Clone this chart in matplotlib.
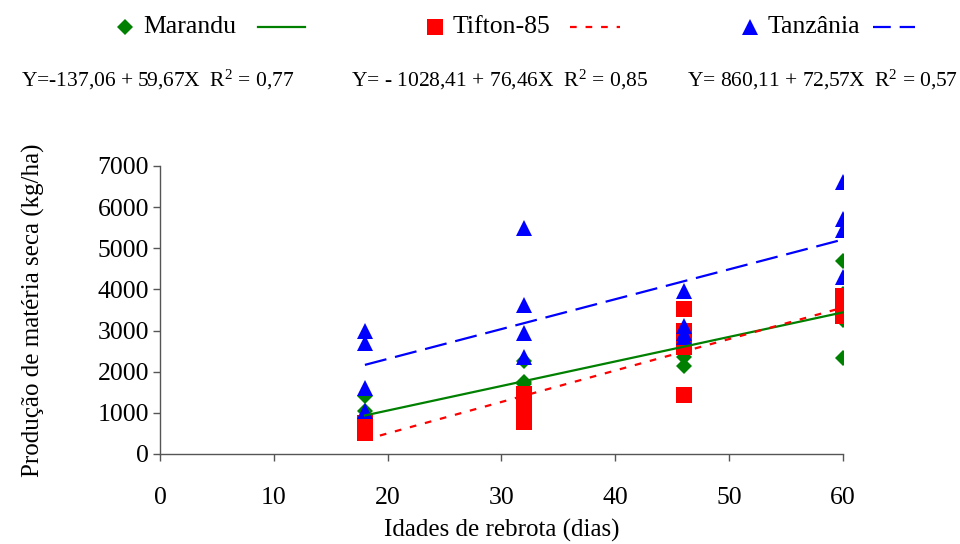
import matplotlib.pyplot as plt
from matplotlib.lines import Line2D

plt.rcParams['font.family'] = ['Liberation Serif', 'DejaVu Serif']
plt.rcParams['mathtext.default'] = 'regular'

# dias de rebrota
idades = [18, 32, 46, 60]

# producao de materia seca (kg/ha), 4 valores por idade
marandu = [[1400, 1050, 700, 500],
           [2250, 1750, 1700, 1600],
           [2350, 2150, 2500, 2700],
           [4690, 3900, 3250, 2330]]
tifton = [[750, 650, 550, 500],
          [1450, 1250, 1000, 780],
          [3520, 3000, 2600, 1430],
          [3850, 3650, 3450, 3350]]
tanzania = [[3000, 2700, 1600, 1050],
            [5500, 3620, 2940, 2360],
            [3950, 3100, 2950, 2850],
            [6610, 5710, 5450, 4300]]

# retas de regressao (inicio e fim)
reta_x = [18, 60]
reta_marandu = [937, 3443]
reta_tifton = [348, 3559]
reta_tanzania = [2166, 5214]

nomes = ['Marandu', 'Tifton-85', 'Tanzânia']
equacoes = ['Y=-137,06 + 59,67X  R$^2$ = 0,77',
            'Y= - 1028,41 + 76,46X  R$^2$ = 0,85',
            'Y= 860,11 + 72,57X  R$^2$ = 0,57']

verde, vermelho, azul = '#008000', '#FF0000', '#0000FF'


def pontos(dados):
    xs, ys = [], []
    for x, vals in zip(idades, dados):
        xs += [x] * len(vals)
        ys += vals
    return xs, ys


fig = plt.figure(figsize=(9.6, 5.44), dpi=100)
ax = fig.add_axes([160 / 960, 1 - 454 / 544, 683 / 960, 288 / 544])

x, y = pontos(marandu)
ax.plot(x, y, 'D', color=verde, markersize=8.5, markeredgewidth=0, zorder=3)
x, y = pontos(tifton)
ax.plot(x, y, 's', color=vermelho, markersize=11.5, markeredgewidth=0, zorder=4)
x, y = pontos(tanzania)
ax.plot(x, y, '^', color=azul, markersize=12, markeredgewidth=0, zorder=5)

ax.plot(reta_x, reta_marandu, '-', color=verde, lw=1.6, zorder=6)
ax.plot(reta_x, reta_tifton, color=vermelho, lw=1.6, dashes=(3, 4), zorder=6)
ax.plot(reta_x, reta_tanzania, color=azul, lw=1.6, dashes=(10, 4), zorder=6)

ax.set_xlim(0, 60)
ax.set_ylim(0, 7000)
ax.set_xticks(range(0, 61, 10))
ax.set_yticks(range(0, 7001, 1000))
for s in ['top', 'right']:
    ax.spines[s].set_visible(False)
for s in ['left', 'bottom']:
    ax.spines[s].set_color('#555555')
    ax.spines[s].set_linewidth(1.0)
ax.tick_params(axis='both', direction='out', length=5, width=1, color='#555555',
               labelsize=18.5)
ax.tick_params(axis='x', pad=19)
ax.tick_params(axis='y', pad=3)
ax.set_xlabel('Idades de rebrota (dias)', fontsize=18, labelpad=7)
ax.set_ylabel('Produção de matéria seca (kg/ha)', fontsize=18, labelpad=38)

# legenda manual: marcador, nome e amostra da linha
leg_marc = ['D', 's', '^']
leg_tam = [8.5, 11.5, 12]
leg_cor = [verde, vermelho, azul]
leg_dash = [None, (3, 4), (8, 4)]
leg_xm = [125, 435, 750]
leg_xl = [(258, 305), (570, 620), (873, 915)]
ly = 1 - 27 / 544
for i in range(3):
    fig.add_artist(Line2D([leg_xm[i] / 960], [ly], marker=leg_marc[i], color=leg_cor[i],
                          markersize=leg_tam[i], markeredgewidth=0, linestyle='none'))
    fig.text((leg_xm[i] + 18) / 960, ly, nomes[i], fontsize=18.5, va='center', ha='left')
    ln = Line2D([leg_xl[i][0] / 960, leg_xl[i][1] / 960], [ly, ly], color=leg_cor[i], lw=1.6)
    if leg_dash[i]:
        ln.set_dashes(leg_dash[i])
    fig.add_artist(ln)

eq_x = [21, 351, 687]
for i in range(3):
    fig.text(eq_x[i] / 960, 1 - 80 / 544, equacoes[i], fontsize=15.5, va='center', ha='left')

fig.savefig('out.png', dpi=100)
